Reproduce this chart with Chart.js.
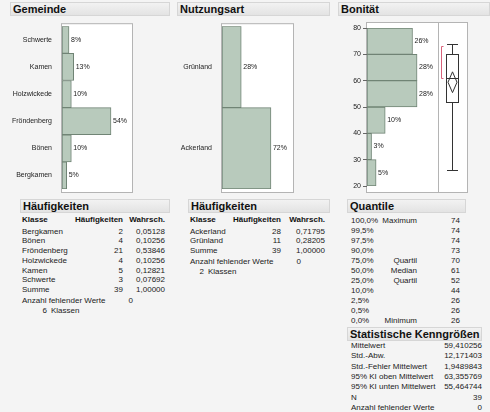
<!DOCTYPE html>
<html>
<head>
<meta charset="utf-8">
<script src="https://cdn.jsdelivr.net/npm/chart.js@4"></script>
<style>
  body { margin: 0; background: #f4f4f4; font-family: "Liberation Sans", Arial, sans-serif; color: #222; }
  #page { position: relative; width: 490px; height: 412px; overflow: hidden; }
  canvas { position: absolute; }
  .hdr { position: absolute; height: 12px; background: linear-gradient(#f2f2f2, #e3e3e3); border: 1px solid #d6d6d6;
         font-weight: bold; font-size: 11px; line-height: 12px; color: #111; padding-left: 2px; box-sizing: content-box; }
  .t { position: absolute; font-size: 8px; line-height: 10px; height: 10px; white-space: nowrap; }
  .b { font-weight: bold; color: #111; }
</style>
</head>
<body>
<div id="page">
  <div class="hdr" style="left:10px;top:2px;width:156px;">Gemeinde</div>
  <div class="hdr" style="left:177px;top:2px;width:149px;">Nutzungsart</div>
  <div class="hdr" style="left:338px;top:2px;width:148px;">Bonität</div>

  <canvas id="gemeinde" width="140" height="176" style="left:0;top:20px;"></canvas>
  <canvas id="nutzung" width="130" height="176" style="left:170px;top:20px;"></canvas>
  <canvas id="bonitaet" width="150" height="176" style="left:335px;top:20px;"></canvas>

  <div class="hdr" style="left:20px;top:199px;width:146px;">Häufigkeiten</div>
  <div class="hdr" style="left:188px;top:199px;width:138px;">Häufigkeiten</div>
  <div class="hdr" style="left:347px;top:199px;width:115px;">Quantile</div>
  <div class="hdr" style="left:347px;top:327px;width:131px;">Statistische Kenngrößen</div>
  <div id="texts"></div>
</div>
<script>
// Gemeinde
const gemeindeKlassen = ['Bergkamen', 'Bönen', 'Fröndenberg', 'Holzwickede', 'Kamen', 'Schwerte'];
const gemeindeAnzahl = [2, 4, 21, 4, 5, 3];

// Nutzungsart
const nutzungKlassen = ['Ackerland', 'Grünland'];
const nutzungAnzahl = [28, 11];

// Bonität histogram (bin lower edges, width 10)
const bonitaetBins = [20, 30, 40, 50, 60, 70];
const bonitaetAnzahl = [2, 1, 4, 11, 11, 10];
const bonitaetTicks = [20, 30, 40, 50, 60, 70, 80];

// Quantile
const quantilStufen = ['100,0%', '99,5%', '97,5%', '90,0%', '75,0%', '50,0%', '25,0%', '10,0%', '2,5%', '0,5%', '0,0%'];
const quantilNamen = ['Maximum', '', '', '', 'Quartil', 'Median', 'Quartil', '', '', '', 'Minimum'];
const quantilWerte = [74, 74, 74, 73, 70, 61, 52, 44, 26, 26, 26];

// Statistische Kenngrößen
const statNamen = ['Mittelwert', 'Std.-Abw.', 'Std.-Fehler Mittelwert', '95% KI oben Mittelwert', '95% KI unten Mittelwert', 'N', 'Anzahl fehlender Werte'];
const statWerte = ['59,410256', '12,171403', '1,9489843', '63,355769', '55,464744', '39', '0'];
const mittelwert = 59.410256, kiOben = 63.355769, kiUnten = 55.464744;
const kuerzesteHaelfte = [61, 73];

const barFill = 'rgb(184, 202, 188)';
const barLine = 'rgb(112, 132, 117)';
Chart.defaults.font.family = '"Liberation Sans", Arial, sans-serif';
Chart.defaults.font.size = 7;
Chart.defaults.color = '#222';

function pct(n, total) { return Math.round(n / total * 100) + '%'; }

const framePlugin = {
  id: 'frame',
  beforeDraw(chart, args, opts) {
    const a = chart.chartArea, ctx = chart.ctx;
    const right = a.right + (opts.extra || 0);
    ctx.save();
    ctx.fillStyle = '#fff';
    ctx.fillRect(a.left, a.top - opts.top, right - a.left, a.bottom - a.top + opts.top + opts.bottom);
    ctx.strokeStyle = '#b4b4b4';
    ctx.lineWidth = 1;
    ctx.strokeRect(a.left - 0.5, a.top - opts.top - 0.5, right - a.left + 1, a.bottom - a.top + opts.top + opts.bottom + 1);
    if (opts.extra) {
      ctx.beginPath();
      ctx.moveTo(a.right + 0.5, a.top - opts.top);
      ctx.lineTo(a.right + 0.5, a.bottom + opts.bottom);
      ctx.stroke();
    }
    ctx.restore();
  }
};

const pctPlugin = {
  id: 'pct',
  afterDatasetsDraw(chart) {
    const ctx = chart.ctx;
    const ds = chart.data.datasets[0];
    const vals = ds.data.map(d => typeof d === 'object' ? d.x : d);
    const total = vals.reduce((s, v) => s + v, 0);
    ctx.save();
    ctx.font = '7px "Liberation Sans", Arial, sans-serif';
    ctx.fillStyle = '#222';
    ctx.textBaseline = 'middle';
    chart.getDatasetMeta(0).data.forEach((el, i) => {
      ctx.fillText(pct(vals[i], total), el.x + 2, el.y);
    });
    ctx.restore();
  }
};

function catChart(id, labels, counts, xMax, axisWidth, rightPad) {
  return new Chart(document.getElementById(id), {
    type: 'bar',
    data: { labels: labels, datasets: [{ data: counts, backgroundColor: barFill, borderColor: barLine,
      borderWidth: 1, borderSkipped: false, barPercentage: 1, categoryPercentage: 1 }] },
    options: {
      indexAxis: 'y', responsive: false, animation: false,
      layout: { padding: { top: 5, bottom: 7, right: rightPad, left: 0 } },
      plugins: { legend: { display: false }, tooltip: { enabled: false }, frame: { top: 2, bottom: 3 } },
      scales: {
        x: { display: false, min: 0, max: xMax },
        y: { reverse: true, grid: { display: false }, border: { display: false },
             ticks: { padding: 2, color: '#222' },
             afterFit(s) { s.width = axisWidth; } }
      }
    },
    plugins: [framePlugin, pctPlugin]
  });
}

catChart('gemeinde', gemeindeKlassen, gemeindeAnzahl, 30, 62, 8);
catChart('nutzung', nutzungKlassen, nutzungAnzahl, 40.6, 52, 7);

const boxPlugin = {
  id: 'box',
  afterDraw(chart) {
    const ctx = chart.ctx, y = chart.scales.y, a = chart.chartArea;
    const xc = a.right + 14.5, hw = 6;
    const q = v => Math.round(y.getPixelForValue(v)) + 0.5;
    const max = quantilWerte[0], q3 = quantilWerte[4], med = quantilWerte[5], q1 = quantilWerte[6], min = quantilWerte[10];
    ctx.save();
    ctx.strokeStyle = '#333';
    ctx.lineWidth = 1;
    ctx.beginPath();
    ctx.moveTo(xc, q(max)); ctx.lineTo(xc, q(q3));
    ctx.moveTo(xc, q(q1)); ctx.lineTo(xc, q(min));
    ctx.moveTo(xc - 5.5, q(max)); ctx.lineTo(xc + 5.5, q(max));
    ctx.moveTo(xc - 5.5, q(min)); ctx.lineTo(xc + 5.5, q(min));
    ctx.stroke();
    ctx.fillStyle = '#fff';
    ctx.fillRect(xc - hw, q(q3), hw * 2, q(q1) - q(q3));
    ctx.strokeRect(xc - hw, q(q3), hw * 2, q(q1) - q(q3));
    ctx.beginPath();
    ctx.moveTo(xc - hw, q(med)); ctx.lineTo(xc + hw, q(med));
    ctx.stroke();
    // mean diamond
    ctx.beginPath();
    ctx.moveTo(xc, y.getPixelForValue(kiOben));
    ctx.lineTo(xc + 4.5, y.getPixelForValue(mittelwert));
    ctx.lineTo(xc, y.getPixelForValue(kiUnten));
    ctx.lineTo(xc - 4.5, y.getPixelForValue(mittelwert));
    ctx.closePath();
    ctx.stroke();
    // shortest half bracket
    ctx.strokeStyle = '#d9627a';
    ctx.beginPath();
    const bx = a.right + 3.5;
    ctx.moveTo(bx + 2, q(kuerzesteHaelfte[1])); ctx.lineTo(bx, q(kuerzesteHaelfte[1]));
    ctx.lineTo(bx, q(kuerzesteHaelfte[0])); ctx.lineTo(bx + 2, q(kuerzesteHaelfte[0]));
    ctx.stroke();
    ctx.restore();
  }
};

new Chart(document.getElementById('bonitaet'), {
  type: 'bar',
  data: { datasets: [{ data: bonitaetBins.map((b, i) => ({ y: b + 5, x: bonitaetAnzahl[i] })),
    backgroundColor: barFill, borderColor: barLine, borderWidth: 1, borderSkipped: false,
    barPercentage: 1, categoryPercentage: 1 }] },
  options: {
    indexAxis: 'y', responsive: false, animation: false,
    layout: { padding: { top: 8, bottom: 10, right: 47, left: 0 } },
    plugins: { legend: { display: false }, tooltip: { enabled: false }, frame: { top: 5, bottom: 6, extra: 29 } },
    scales: {
      x: { display: false, min: 0, max: 15.6 },
      y: { type: 'linear', offset: false, min: 20, max: 80,
           afterBuildTicks(s) { s.ticks = bonitaetTicks.map(v => ({ value: v })); },
           grid: { drawOnChartArea: false, tickLength: 4, color: '#666', offset: false },
           border: { display: false },
           ticks: { padding: 2, color: '#222' },
           afterFit(s) { s.width = 32; } }
    }
  },
  plugins: [framePlugin, pctPlugin, boxPlugin]
});

// tables
const texts = document.getElementById('texts');
function put(x, y, s, align, bold) {
  const d = document.createElement('div');
  d.className = 't' + (bold ? ' b' : '');
  d.textContent = s;
  d.style.top = (y - 5) + 'px';
  if (align === 'right') d.style.right = (490 - x) + 'px';
  else d.style.left = x + 'px';
  texts.appendChild(d);
}
function fmt(v) { return v.toFixed(5).replace('.', ','); }

function freqTable(x0, klassen, anzahl, cols, rowStep, extraY) {
  const total = anzahl.reduce((s, v) => s + v, 0);
  put(x0, 220, 'Klasse', 'left', true);
  put(cols[0], 220, 'Häufigkeiten', 'right', true);
  put(cols[1], 220, 'Wahrsch.', 'right', true);
  const rows = klassen.map((k, i) => [k, String(anzahl[i]), fmt(anzahl[i] / total)]);
  rows.push(['Summe', String(total), fmt(1)]);
  rows.forEach((r, i) => {
    const y = 231.5 + i * rowStep;
    put(x0, y, r[0], 'left');
    put(cols[0], y, r[1], 'right');
    put(cols[1], y, r[2], 'right');
  });
  const yA = 231.5 + rows.length * rowStep + 1;
  put(x0, yA, 'Anzahl fehlender Werte', 'left');
  put(cols[2], yA, '0', 'right');
  put(cols[3], yA + 10, String(klassen.length), 'right');
  put(cols[3] + 4, yA + 10, 'Klassen', 'left');
}
freqTable(22, gemeindeKlassen, gemeindeAnzahl, [123, 165, 133, 47], 9.75);
freqTable(190, nutzungKlassen, nutzungAnzahl, [281, 325, 301, 204], 9.75);

quantilStufen.forEach((s, i) => {
  const y = 221 + i * 10;
  put(351, y, s, 'left');
  if (quantilNamen[i]) put(417, y, quantilNamen[i], 'right');
  put(460, y, String(quantilWerte[i]), 'right');
});
statNamen.forEach((s, i) => {
  const y = 346 + i * 10.33;
  put(351, y, s, 'left');
  put(482, y, statWerte[i], 'right');
});
</script>
</body>
</html>
